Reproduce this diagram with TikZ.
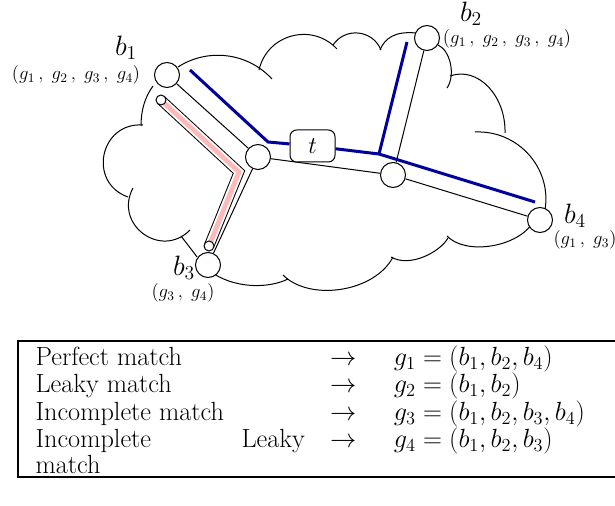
\RequirePackage{fix-cm}
\documentclass[tikz,border=0pt]{standalone}
\usepackage{array}

\tikzset{every picture/.style={line width=0.75pt}}
\tikzset{
  port/.style={draw, circle, fill=white, minimum size=18.75pt, inner sep=0pt},
  tubecap/.style={draw, circle, fill=white, minimum size=7.5pt, inner sep=0pt},
  tbox/.style={draw, fill=white, rounded corners=5pt, minimum width=33.75pt, minimum height=24pt, inner sep=0pt, font=\fontsize{18}{20}\selectfont},
  bluepath/.style={color={rgb, 255:red, 0; green, 0; blue, 155}, line width=2.25pt},
  blabel/.style={inner sep=0pt, font=\fontsize{21}{24}\selectfont},
  glabel/.style={inner sep=0pt, font=\fontsize{14}{16}\selectfont},
  tabframe/.style={line width=1.8pt},
}

\begin{document}
\begin{tikzpicture}[x=0.75pt,y=0.75pt,yscale=-1,xscale=1]
\useasboundingbox (0,0) rectangle (615,506);

% cloud
\draw (178,67) .. controls (208.1,47.6) and (247.8,52.7) .. (272,79) ;
\draw (259,70) .. controls (267.1,34.2) and (312,22.2) .. (337,49) ;
\draw (333,45) .. controls (345.2,26.8) and (372.8,29.7) .. (381,50) ;
\draw (380,50) .. controls (385,38) and (395,31) .. (416,33) ;
\draw (438,45) .. controls (450,50) and (456,75) .. (447,88) ;
\draw (450,76) .. controls (478,66) and (506,96) .. (505,133) ;
\draw (475,132) .. controls (518,130) and (552,168) .. (545,210) ;
\draw (532,224) .. controls (515,248) and (465,255) .. (447,236) ;
\draw (448,238) .. controls (440,252) and (410,268) .. (391,257) ;
\draw (393,257) .. controls (375,292) and (310,302) .. (283,275) ;
\draw (288,279) .. controls (270,288) and (238,289) .. (214,274) ;
\draw (197,257) .. controls (192,250) and (187,244) .. (181,236) ;
\draw (190,230) .. controls (161,259.6) and (113.4,224.4) .. (133,188) ;
\draw (128,197) .. controls (87.3,182.6) and (99.9,122) .. (143,125) ;
\draw (141,126) .. controls (141,110) and (145,97) .. (153,86) ;

% tube
\coordinate (c1) at (161,100);
\coordinate (bend) at (239,172);
\coordinate (c2) at (209,246);
\draw [line width=7.9pt] (c1) -- (bend) -- (c2) ;
\draw [white, line width=6.4pt] (c1) -- (bend) -- (c2) ;
\draw [color={rgb, 255:red, 255; green, 185; blue, 185}, line width=3.6pt] (c1) -- (bend) -- (c2) ;
\node [tubecap] (cap1) at (c1) {};
\node [tubecap] (cap2) at (c2) {};

\node [port] (b1) at (167,75) {};
\node [port] (b2) at (427,38) {};
\node [port] (b3) at (208,265) {};
\node [port] (b4) at (540,220) {};
\node [port] (j1) at (258,157) {};
\node [port] (j2) at (393,175) {};

\draw (b1) -- (j1) ;
\draw (j1) -- (b3) ;
\draw (j1) -- (j2) ;
\draw (j2) -- (b4) ;
\draw (b2) -- (j2) ;

\node [tbox] (t) at (312.5,146) {$t$};

% blue tree
\coordinate (p1) at (190,70);
\coordinate (p2) at (268,142);
\coordinate (q) at (379,154);
\coordinate (q2) at (407,42);
\coordinate (q4) at (535,202);
\draw [bluepath] (p1) -- (p2) -- (t) ;
\draw [bluepath] (t) -- (q) -- (q2) ;
\draw [bluepath] (q) -- (q4) ;

\draw (126,48) node [blabel] (lb1) {$b_{1}$};
\draw (76,75) node [glabel] (lg1) {$(g_{1}\,,\;g_{2}\,,\;g_{3}\,,\;g_{4})$};
\draw (471,14) node [blabel] (lb2) {$b_{2}$};
\draw (507,39) node [glabel] (lg2) {$(g_{1}\,,\;g_{2}\,,\;g_{3}\,,\;g_{4})$};
\draw (184,268) node [blabel] (lb3) {$b_{3}$};
\draw (183,293) node [glabel] (lg3) {$(g_{3}\,,\;g_{4})$};
\draw (575,216) node [blabel] (lb4) {$b_{4}$};
\draw (553,240) node [glabel, anchor=west] (lg4) {$(g_{1}\,,\;g_{3})$};

% table
\draw [tabframe] (18,341) rectangle (640,477) ;
\draw (35,345) node [anchor=north west, inner sep=0pt, font=\fontsize{19.7}{19.5}\selectfont] (tab) {\begin{tabular}{@{}p{202pt}@{\hspace{19pt}}c@{\hspace{28pt}}l@{}}
Perfect match & $\rightarrow$ & $g_{1}=(b_{1},b_{2},b_{4})$ \\
Leaky match & $\rightarrow$ & $g_{2}=(b_{1},b_{2})$ \\
Incomplete match & $\rightarrow$ & $g_{3}=(b_{1},b_{2},b_{3},b_{4})$ \\
Incomplete\hfill Leaky\newline match & $\rightarrow$ & $g_{4}=(b_{1},b_{2},b_{3})$
\end{tabular}};

\end{tikzpicture}
\end{document}
